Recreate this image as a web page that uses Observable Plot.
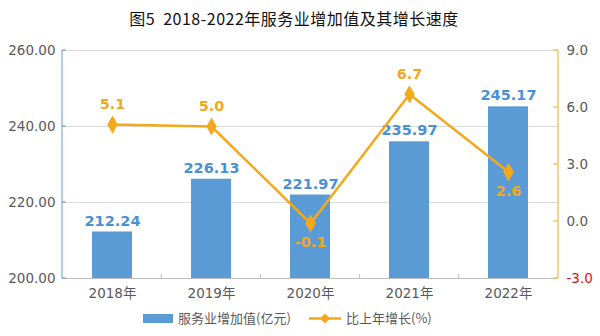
<!DOCTYPE html>
<html><head><meta charset="utf-8">
<script src="https://cdn.jsdelivr.net/npm/d3@7"></script>
<script src="https://cdn.jsdelivr.net/npm/@observablehq/plot@0.6"></script>
<style>
html,body{margin:0;padding:0;background:#fff;}
#wrap{width:600px;height:336px;position:relative;font-family:"DejaVu Sans","Noto Sans CJK SC",sans-serif;}
#title{height:34px;line-height:36px;text-align:center;padding-right:12px;font-family:"Noto Sans CJK SC",sans-serif;font-size:16px;font-weight:400;letter-spacing:0.5px;color:#111;}
#legend{position:absolute;left:0;top:306px;width:600px;height:30px;font-family:"Noto Sans CJK SC",sans-serif;font-size:13px;color:#595959;}
.sw{position:absolute;top:0;height:30px;line-height:24px;}
</style>
</head><body><div id="wrap">
<div id="title">图5&nbsp;&nbsp;2018-2022年服务业增加值及其增长速度</div>
<div id="chart"></div>
<div id="legend"></div>
</div>
<script>
const years = ["2018年","2019年","2020年","2021年","2022年"];
const valueAdded = [212.24, 226.13, 221.97, 235.97, 245.17];
const growth = [5.1, 5.0, -0.1, 6.7, 2.6];
const leftTicks = [200, 220, 240, 260];
const rightTicks = [-3, 0, 3, 6, 9];
const belowLabelYears = ["2020年", "2022年"];
const seriesNames = ["服务业增加值(亿元)", "比上年增长(%)"];

const BLUE = "#5b9bd5", ORANGE = "#f5a81c", GOLD = "#f2b934", GRAY = "#595959";
// map growth (-3..9) onto left scale (200..260)
const toLeft = g => 200 + (g + 3) * 5;
const fromLeft = v => (v - 200) / 5 - 3;

const data = years.map((y, i) => ({year: y, value: valueAdded[i], growth: growth[i], gy: toLeft(growth[i])}));

function decorations(index, scales, values, dims) {
  const g = d3.create("svg:g");
  const x0 = dims.marginLeft, x1 = dims.width - dims.marginRight;
  const y0 = dims.marginTop, y1 = dims.height - dims.marginBottom;
  g.append("line").attr("x1", x0).attr("x2", x0).attr("y1", y0).attr("y2", y1).attr("stroke", BLUE);
  for (const t of leftTicks) {
    const y = scales.y(t);
    g.append("line").attr("x1", x0).attr("x2", x0 + 4).attr("y1", y).attr("y2", y).attr("stroke", BLUE);
  }
  g.append("line").attr("x1", x1).attr("x2", x1).attr("y1", y0).attr("y2", y1).attr("stroke", GOLD).attr("stroke-width", 1.2);
  for (const t of rightTicks) {
    const y = scales.y(toLeft(t));
    g.append("line").attr("x1", x1 - 5).attr("x2", x1).attr("y1", y).attr("y2", y).attr("stroke", GOLD).attr("stroke-width", 1.2);
  }
  for (let i = 1; i < years.length; i++) {
    const bx = x0 + i * (x1 - x0) / years.length;
    g.append("line").attr("x1", bx).attr("x2", bx).attr("y1", y1 - 4).attr("y2", y1).attr("stroke", "#bfbfbf");
  }
  return g.node();
}

const plot = Plot.plot({
  width: 600,
  height: 272,
  marginLeft: 62,
  marginRight: 42,
  marginTop: 16,
  marginBottom: 28,
  style: {fontFamily: '"DejaVu Sans","Noto Sans CJK SC",sans-serif', background: "transparent"},
  x: {domain: years, paddingInner: 0.6, paddingOuter: 0.3, label: null, axis: null},
  y: {domain: [200, 260], label: null, axis: null},
  marks: [
    Plot.ruleY([220, 240, 260], {stroke: "#d9d9d9"}),
    Plot.ruleY([200], {stroke: "#bfbfbf"}),
    Plot.barY(data, {x: "year", y1: 200, y2: "value", fill: BLUE}),
    Plot.axisY(leftTicks, {anchor: "left", tickSize: 0, tickPadding: 7, tickFormat: d => d.toFixed(2), fill: GRAY, fontSize: 13.5, label: null}),
    Plot.axisY(rightTicks.filter(t => t >= 0).map(toLeft), {anchor: "right", tickSize: 0, tickPadding: 8, tickFormat: d => fromLeft(d).toFixed(1), fill: GRAY, fontSize: 13.5, label: null}),
    Plot.axisY(rightTicks.filter(t => t < 0).map(toLeft), {anchor: "right", tickSize: 0, tickPadding: 8, tickFormat: d => fromLeft(d).toFixed(1), fill: "#e0101a", fontSize: 13.5, label: null}),
    Plot.axisX(years, {anchor: "bottom", tickSize: 0, tickPadding: 10, fill: GRAY, fontSize: 13.5, label: null}),
    decorations,
    Plot.text(data, {x: "year", y: "value", text: d => d.value.toFixed(2), dy: -11, fill: "#4a90d4", fontWeight: "bold", fontSize: 14.5}),
    Plot.line(data, {x: "year", y: "gy", stroke: ORANGE, strokeWidth: 2.5}),
    Plot.dot(data, {x: "year", y: "gy", symbol: "diamond", r: 5.5, fill: ORANGE, stroke: null}),
    Plot.text(data, {x: "year", y: "gy", text: d => d.growth.toFixed(1), fill: ORANGE, fontWeight: "bold", fontSize: 14.5,
      filter: d => !belowLabelYears.includes(d.year), dy: -20}),
    Plot.text(data, {x: "year", y: "gy", text: d => d.growth.toFixed(1), fill: ORANGE, fontWeight: "bold", fontSize: 14.5,
      filter: d => belowLabelYears.includes(d.year), dy: 19})
  ]
});
document.getElementById("chart").appendChild(plot);

const lg = document.getElementById("legend");
lg.innerHTML =
  `<div class="sw" style="left:143px"><svg width="30" height="24" style="vertical-align:top"><rect x="0" y="8" width="30" height="9" fill="${BLUE}"/></svg></div>` +
  `<div class="sw" style="left:178px">${seriesNames[0]}</div>` +
  `<div class="sw" style="left:309px"><svg width="32" height="24" style="vertical-align:top"><line x1="0" x2="32" y1="12.5" y2="12.5" stroke="${ORANGE}" stroke-width="2.5"/><path d="M16,7.5L21,12.5L16,17.5L11,12.5Z" fill="${ORANGE}"/></svg></div>` +
  `<div class="sw" style="left:346px">${seriesNames[1]}</div>`;
</script>
</body></html>
